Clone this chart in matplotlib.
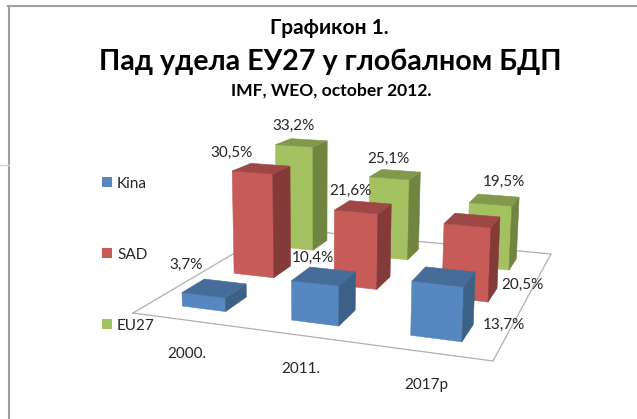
#!/usr/bin/env python
import numpy as np
import matplotlib

matplotlib.use("Agg")
import matplotlib.pyplot as plt
from matplotlib.patches import Polygon

plt.rcParams["font.family"] = ["Lato", "Noto Sans", "DejaVu Sans"]

years = ["2000.", "2011.", "2017p"]
series_names = ["Kina", "SAD", "EU27"]
kina = [3.7, 10.4, 13.7]
sad = [30.5, 21.6, 20.5]
eu27 = [33.2, 25.1, 19.5]

front_clrs = {"Kina": "#5687c1", "SAD": "#c65b58", "EU27": "#a3c160"}
top_clrs = {"Kina": "#466d9a", "SAD": "#9d4846", "EU27": "#82994c"}
side_clrs = {"Kina": "#3d6087", "SAD": "#843a39", "EU27": "#708540"}

# floor corners in image pixels: front-left, front-right, back-right, back-left
floor_px = [(133, 313), (493, 361), (551, 254), (277, 228)]
floor_uv = [(0, 0), (1, 0), (1, 1), (0, 1)]
z_scale = -3.95
z_persp = -0.00085
x_upright = 316
bar_w = 0.135
bar_d = 0.135


def floor_matrix():
    a = []
    b = []
    for (u, v), (x, y) in zip(floor_uv, floor_px):
        a.append([u, v, 1, 0, 0, 0, -u * x, -v * x])
        a.append([0, 0, 0, u, v, 1, -u * y, -v * y])
        b += [x, y]
    return np.append(np.linalg.solve(np.array(a, float), np.array(b, float)), 1).reshape(3, 3)


H = floor_matrix()


def proj(u, v, z=0.0):
    p = H @ np.array([u, v, 1.0])
    w = p[2] + z_persp * z
    return (p[0] + x_upright * z_persp * z) / w, (p[1] + z_scale * z) / w


def draw_bar(ax, u, v, val, name):
    u0, u1 = u - bar_w / 2, u + bar_w / 2
    v0, v1 = v - bar_d / 2, v + bar_d / 2
    faces = [
        ([(u0, v0, 0), (u1, v0, 0), (u1, v0, val), (u0, v0, val)], front_clrs[name]),
        ([(u1, v0, 0), (u1, v1, 0), (u1, v1, val), (u1, v0, val)], side_clrs[name]),
        ([(u0, v0, val), (u1, v0, val), (u1, v1, val), (u0, v1, val)], top_clrs[name]),
    ]
    for pts, clr in faces:
        ax.add_patch(Polygon([proj(*p) for p in pts], closed=True, fc=clr, ec=clr, lw=0.4))


fig = plt.figure(figsize=(6.37, 4.19), dpi=100)
ax = fig.add_axes([0, 0, 1, 1])
ax.set_xlim(0, 637)
ax.set_ylim(419, 0)
ax.axis("off")

# screenshot frame
ax.plot([9, 9], [6.5, 419], color="#a0a0a0", lw=1.5)
ax.plot([8, 637], [6.5, 6.5], color="#a0a0a0", lw=1.5)
ax.plot([0, 9], [165, 165], color="#d4d4d4", lw=1)

# floor, kept under the bars
floor = np.array(floor_px + floor_px[:1])
ax.plot(floor[:, 0], floor[:, 1], color="#b0b0b0", lw=0.9, zorder=0)

all_vals = {"EU27": eu27, "SAD": sad, "Kina": kina}
depths = {"Kina": 1 / 6, "SAD": 3 / 6, "EU27": 5 / 6}
for name in ["EU27", "SAD", "Kina"]:
    for i, val in enumerate(all_vals[name]):
        draw_bar(ax, (i + 0.5) / 3, depths[name], val, name)

# value labels, placed in pixels as in the picture
label_px = {
    "Kina": [(186, 265), (313, 258), (504, 325)],
    "SAD": [(231, 153), (350, 191), (522, 285)],
    "EU27": [(293, 126), (388, 159), (504, 182)],
}
for name in series_names:
    for (x, y), val in zip(label_px[name], all_vals[name]):
        ax.text(x, y, f"{val:.1f}%".replace(".", ","), ha="center", va="center",
                fontsize=11, color="#262626")

for (x, y), yr in zip([(187, 354), (301, 369), (426, 385)], years):
    ax.text(x, y, yr, ha="center", va="center", fontsize=11, color="#262626")

# legend
for (y, name) in zip([182, 253, 324], series_names):
    ax.add_patch(Polygon([(102, y - 5), (112, y - 5), (112, y + 5), (102, y + 5)], fc=front_clrs[name]))
    ax.text(117, y + 1.5, name, ha="left", va="center", fontsize=11, color="#262626")

ax.text(329, 28, "Графикон 1.", ha="center", va="center", fontsize=15, fontweight="bold", color="black")
ax.text(330, 62, "Пад удела ЕУ27 у глобалном БДП", ha="center", va="center", fontsize=20.6, fontweight="bold", color="black")
ax.text(331, 91, "IMF, WEO, october 2012.", ha="center", va="center", fontsize=12.6, fontweight="bold", color="black")

plt.savefig("out.png", dpi=100)
